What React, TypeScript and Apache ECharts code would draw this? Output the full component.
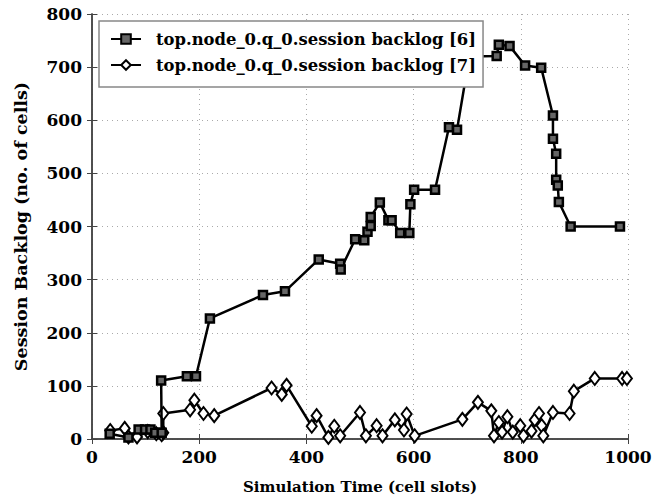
import React, { useEffect, useRef } from "react";
import * as echarts from "echarts";

const seriesNames = [
  "top.node_0.q_0.session backlog [6]",
  "top.node_0.q_0.session backlog [7]",
];

// [simulation time, backlog]
const backlog6: [number, number][] = [
  [33, 10], [68, 3], [87, 18], [99, 18], [109, 18], [118, 12], [130, 12],
  [129, 110], [177, 118], [194, 118], [220, 227], [319, 271], [360, 278],
  [423, 338], [463, 330], [464, 319], [491, 376], [508, 374], [514, 390],
  [520, 401], [520, 418], [537, 445], [553, 412], [559, 412], [575, 388],
  [592, 388], [594, 442], [601, 469], [640, 469], [666, 587], [681, 582],
  [704, 720], [755, 721], [759, 742], [779, 740], [808, 703], [838, 699],
  [860, 609], [860, 565], [866, 537], [866, 488], [869, 477], [871, 446],
  [893, 400], [985, 400],
];

const backlog7: [number, number][] = [
  [34, 16], [61, 20], [68, 4], [84, 4], [104, 14], [120, 10], [130, 8],
  [133, 12], [133, 48], [183, 55], [191, 73], [208, 48], [228, 44],
  [335, 96], [354, 84], [363, 101], [410, 24], [419, 44], [441, 3],
  [452, 24], [463, 6], [500, 50], [511, 6], [531, 25], [542, 6], [565, 36],
  [582, 17], [587, 47], [602, 6], [691, 37], [720, 69], [745, 53], [750, 6],
  [759, 31], [765, 13], [775, 42], [785, 13], [799, 25], [805, 6], [820, 15],
  [826, 36], [834, 48], [839, 25], [842, 6], [860, 50], [891, 48], [899, 90],
  [938, 114], [989, 114], [998, 114],
];

const xMin = 0, xMax = 1000, xStep = 200;
const yMin = 0, yMax = 800, yStep = 100;

const FONT = "DejaVu Serif";

export default function App() {
  const ref = useRef<HTMLDivElement>(null);
  useEffect(() => {
    if (!ref.current) return;
    const chart = echarts.init(ref.current, null, { renderer: "svg" });
    const axisLine = { show: true, lineStyle: { color: "#444", width: 1.5 } };
    const tick = { show: true, inside: true, length: 5, lineStyle: { color: "#444", width: 1 } };
    const split = { show: true, lineStyle: { color: "#aaa", type: [1, 4] as any, width: 1 } };
    chart.setOption({
      animation: false,
      backgroundColor: "#fff",
      grid: { left: 92, right: 35, top: 14, bottom: 60, containLabel: false },
      legend: {
        orient: "vertical",
        left: 99,
        top: 21,
        padding: [8, 7, 12, 11],
        itemGap: 6,
        itemWidth: 30,
        itemHeight: 12,
        borderColor: "#888",
        borderWidth: 1.5,
        backgroundColor: "#fff",
        textStyle: {
          fontFamily: FONT,
          fontWeight: "bold",
          fontSize: 16.4,
          color: "#000",
          lineHeight: 20,
          padding: [0, 0, 0, 10],
        },
        data: seriesNames,
      },
      xAxis: [
        {
          type: "value",
          min: xMin,
          max: xMax,
          interval: xStep,
          name: "Simulation Time (cell slots)",
          nameLocation: "middle",
          nameGap: 40,
          nameTextStyle: { fontFamily: FONT, fontWeight: "bold", fontSize: 15, color: "#000" },
          axisLine,
          axisTick: tick,
          splitLine: split,
          axisLabel: {
            fontFamily: FONT, fontWeight: "bold", fontSize: 17, color: "#000", margin: 9,
            formatter: (v: number) => String(v),
          },
        },
        {
          type: "value",
          position: "top",
          min: xMin,
          max: xMax,
          interval: xStep,
          axisLine,
          axisTick: tick,
          splitLine: { show: false },
          axisLabel: { show: false },
        },
      ],
      yAxis: [
        {
          type: "value",
          min: yMin,
          max: yMax,
          interval: yStep,
          name: "Session Backlog (no. of cells)",
          nameLocation: "middle",
          nameGap: 62,
          nameTextStyle: { fontFamily: FONT, fontWeight: "bold", fontSize: 17.5, color: "#000" },
          axisLine,
          axisTick: tick,
          splitLine: split,
          axisLabel: {
            fontFamily: FONT, fontWeight: "bold", fontSize: 17, color: "#000", margin: 10,
            formatter: (v: number) => String(v),
          },
        },
        {
          type: "value",
          position: "right",
          min: yMin,
          max: yMax,
          interval: yStep,
          axisLine,
          axisTick: tick,
          splitLine: { show: false },
          axisLabel: { show: false },
        },
      ],
      series: [
        {
          name: seriesNames[0],
          type: "line",
          data: backlog6,
          symbol: "rect",
          symbolSize: 8,
          showAllSymbol: true,
          lineStyle: { color: "#000", width: 2.5 },
          itemStyle: { color: "#666", borderColor: "#000", borderWidth: 2.5 },
          z: 3,
        },
        {
          name: seriesNames[1],
          type: "line",
          data: backlog7,
          symbol: "diamond",
          symbolSize: [10, 13],
          showAllSymbol: true,
          lineStyle: { color: "#000", width: 2.5 },
          itemStyle: { color: "#fff", borderColor: "#000", borderWidth: 2 },
          z: 2,
        },
      ],
    });
    return () => chart.dispose();
  }, []);
  return <div ref={ref} style={{ width: 663, height: 499, position: "absolute", left: 0, top: 0 }} />;
}
